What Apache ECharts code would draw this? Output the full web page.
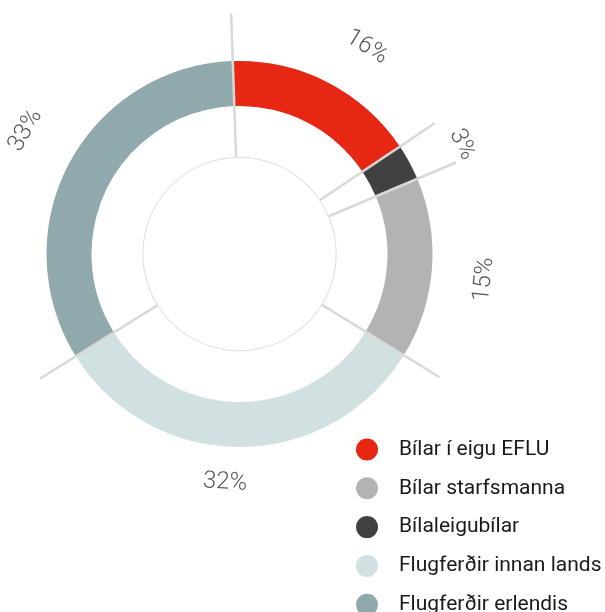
<!DOCTYPE html>
<html>
<head>
<meta charset="utf-8">
<script src="https://cdn.jsdelivr.net/npm/echarts@6/dist/echarts.min.js"></script>
<style>
  html, body { margin: 0; padding: 0; background: #fff; }
  #chart { width: 605px; height: 612px; }
</style>
</head>
<body>
<div id="chart"></div>
<script>
// flokkar og hlutföll (%)
const categories = ['Bílar í eigu EFLU', 'Bílar starfsmanna', 'Bílaleigubílar', 'Flugferðir innan lands', 'Flugferðir erlendis']
const shares = [16, 15, 3, 32, 33]
// röðin í hringnum (réttsælis frá toppi)
const ringOrder = [0, 2, 1, 3, 4]
const colors = ['#e52713', '#b2b3b2', '#414143', '#d1e0e0', '#90a9ac']

const center = [239.5, 254]
const startAngle = 92
const polarR = 270
// staðsetning prósentumerkja (radíus í px, hliðrun í gráðum), í röð hringsins
const labelRadius = [243, 248, 246, 229, 247]
const labelNudge = [4.5, 2.2, 1.6, 3.8, 2]

const ringData = ringOrder.map(i => ({ name: categories[i], value: shares[i], itemStyle: { color: colors[i] } }))
const total = ringData.reduce((s, d) => s + d.value, 0)
const degPerUnit = 360 / total

// skillilínur á mörkum sneiða + merki
let acc = 0
const sepData = []
const labelData = []
ringData.forEach((d, k) => {
  const outer = k === 0 ? 241 : 235
  sepData.push([97, acc], [outer, acc], [null, null])
  const mid = acc + d.value / 2 + labelNudge[k] / degPerUnit
  const theta = mid * degPerUnit - (startAngle - 90)   // réttsælis frá toppi
  const rot = (theta > 90 && theta < 270) ? 180 - theta : -theta
  labelData.push({ value: [labelRadius[k], mid], label: { rotate: rot }, pct: d.value })
  acc += d.value
})

const chart = echarts.init(document.getElementById('chart'))
chart.setOption({
  animation: false,
  legend: {
    orient: 'vertical',
    left: 356,
    top: 438.5,
    height: 200,
    padding: 0,
    icon: 'circle',
    itemWidth: 22,
    itemHeight: 22,
    itemGap: 16.8,
    selectedMode: false,
    data: categories,
    textStyle: {
      fontFamily: 'Roboto, "Liberation Sans", sans-serif',
      fontSize: 21,
      color: '#1a1a1a',
      padding: [0, 0, 0, 16]
    }
  },
  polar: { center: center, radius: polarR },
  angleAxis: { type: 'value', min: 0, max: total, startAngle: startAngle, clockwise: true, show: false },
  radiusAxis: { type: 'value', min: 0, max: polarR, show: false },
  series: [
    {
      type: 'pie',
      center: center,
      radius: [148, 193],
      startAngle: startAngle,
      clockwise: true,
      silent: true,
      label: { show: false },
      labelLine: { show: false },
      data: ringData
    },
    {
      // innri þunni hringurinn
      type: 'pie',
      center: center,
      radius: [96.2, 97.2],
      silent: true,
      label: { show: false },
      labelLine: { show: false },
      itemStyle: { color: '#dedede' },
      data: [{ name: '', value: 1 }]
    },
    {
      type: 'line',
      coordinateSystem: 'polar',
      silent: true,
      symbol: 'none',
      connectNulls: false,
      lineStyle: { color: '#d9d9d9', width: 2.5 },
      z: 10,
      data: sepData
    },
    {
      // prósentumerki
      type: 'scatter',
      coordinateSystem: 'polar',
      silent: true,
      symbolSize: 0,
      label: {
        show: true,
        position: 'inside',
        formatter: p => p.data.pct + '%',
        fontFamily: 'Roboto, "Liberation Sans", sans-serif',
        fontWeight: 300,
        fontSize: 24,
        color: '#2a2a2a'
      },
      data: labelData
    }
  ]
})
</script>
</body>
</html>
